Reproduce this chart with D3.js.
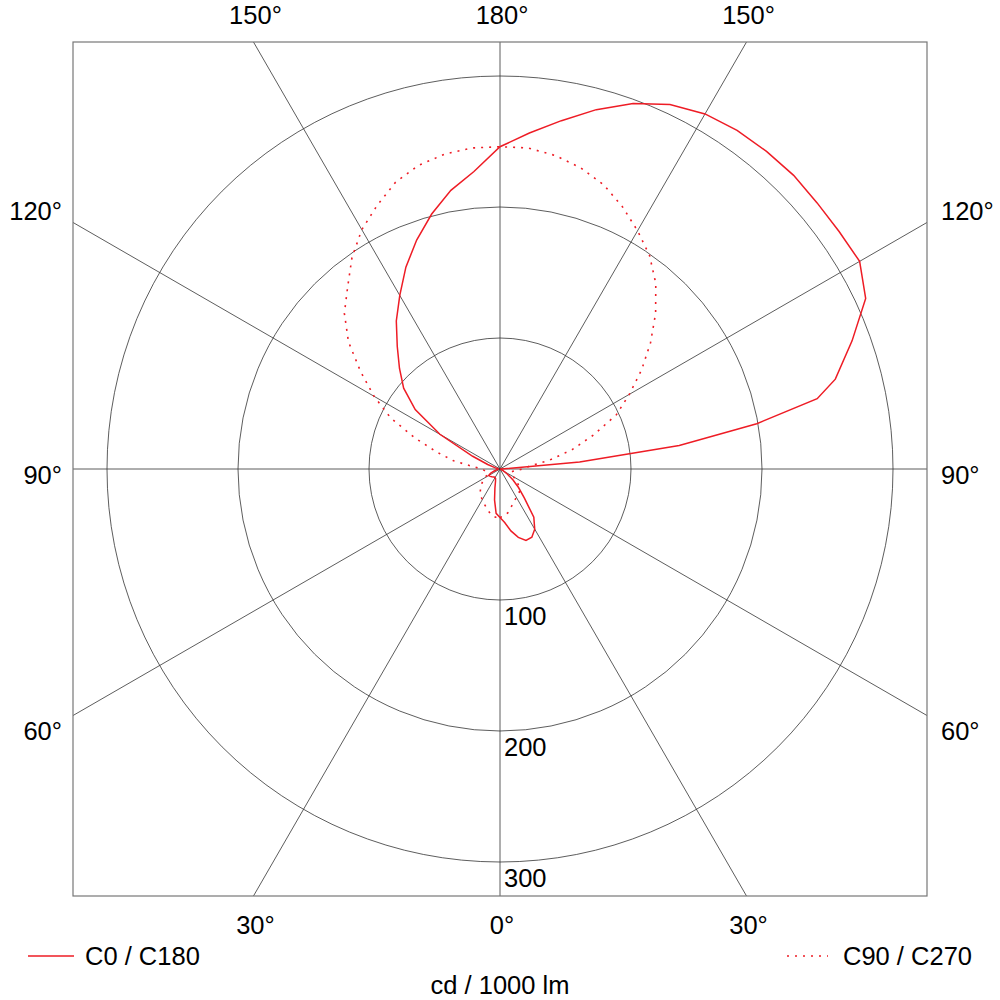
<!DOCTYPE html>
<html>
<head>
<meta charset="utf-8">
<script src="https://cdn.jsdelivr.net/npm/d3@7"></script>
<style>
  body { margin: 0; background: #fff; }
  text { font-family: "Liberation Sans", Arial, Helvetica, sans-serif; font-size: 25.5px; fill: #000; }
</style>
</head>
<body>
<div id="chart"></div>
<script>
// gamma angles (deg, 0 = straight down) and intensities (cd / 1000 lm)
const gammaC0 = [0,5,10,15,20,25,30,35,40,45,50,55,60,65,70,75,80,85,90,95,97.5,100,102.5,105,110,115,120,125,130,135,140,145,150,155,160,165,170,175,180];
const valC0 = [37,41,48,54,58,57.5,53,45,29,20,13,7,3,1,0.5,0.5,0.5,0.5,1,61,138,199,248,265,286,308,317,316,316,317,316.5,315.5,313,307,297,284,270,257.5,246];

const gamma5 = d3.range(0, 181, 5);
const valC180 = [37,34,24,15,10,8,7.5,7.5,8,8.5,9,9.5,10,8,5,3,2,1.5,1.5,1.5,2,4,10,23,53,79,96,108.5,122,138,153,170,186,201.5,216,228,246];
const valC90 = [37,36,34,31,28.5,26.5,25,24,23,21,18,15,12,10,9,9,10,13,17,22,38,57,76,98,114,132,150,168,185,199,210,221,231,238,243,246,246];
const valC270 = [37,37,36,33.5,31,29,27,25.5,23.5,21,18.5,16,13,11,10,10,10.5,12,14,20.5,36,50,69,92,111,130,151,168,181,197,211,222,233,240,244,246,246];

const rings = [100, 200, 300];
const spokes = d3.range(0, 360, 30);
const topLabels = ['150°', '180°', '150°'];
const sideLabels = ['120°', '90°', '60°'];
const bottomLabels = ['30°', '0°', '30°'];
const legendNames = ['C0 / C180', 'C90 / C270'];
const unitLabel = 'cd / 1000 lm';

const width = 1000, height = 1000;
const cx = 500, cy = 469, half = 427;
const red = '#ee1c25';

const r = d3.scaleLinear().domain([0, 300]).range([0, 393]);
const rad = d => d * Math.PI / 180;

const svg = d3.select('#chart').append('svg')
  .attr('width', width)
  .attr('height', height);

//clip rect lives in the translated (centre) coordinates
svg.append('defs').append('clipPath')
  .attr('id', 'frame')
  .append('rect')
  .attr('x', -half).attr('y', -half)
  .attr('width', half * 2).attr('height', half * 2);

const g = svg.append('g')
  .attr('transform', 'translate(' + cx + ',' + cy + ')');

const grid = g.append('g')
  .attr('clip-path', 'url(#frame)');

//spokes every 30 degrees, clipped by the frame
grid.selectAll('.spoke')
  .data(spokes)
  .enter().append('line')
  .attr('class', 'spoke')
  .attr('x1', 0).attr('y1', 0)
  .attr('x2', d => 800 * Math.sin(rad(d)))
  .attr('y2', d => -800 * Math.cos(rad(d)))
  .attr('stroke', '#333')
  .attr('stroke-width', 0.8);

grid.selectAll('.ring')
  .data(rings)
  .enter().append('circle')
  .attr('class', 'ring')
  .attr('r', d => r(d))
  .attr('fill', 'none')
  .attr('stroke', '#333')
  .attr('stroke-width', 0.8);

//frame
svg.append('rect')
  .attr('x', cx - half).attr('y', cy - half)
  .attr('width', half * 2).attr('height', half * 2)
  .attr('fill', 'none')
  .attr('stroke', '#777')
  .attr('stroke-width', 1.2);

//ring labels
g.selectAll('.ring-label')
  .data(rings)
  .enter().append('text')
  .attr('class', 'ring-label')
  .attr('x', 4)
  .attr('y', d => r(d) + 25)
  .text(d => d);

//curves: right half uses angle pi - gamma, left half pi + gamma
const line = d3.lineRadial()
  .curve(d3.curveLinear)
  .angle(d => d.a)
  .radius(d => r(d.v));

function halves(gRight, vRight, gLeft, vLeft) {
  const right = gRight.map((gm, i) => ({a: Math.PI - rad(gm), v: vRight[i]}));
  const left = gLeft.map((gm, i) => ({a: Math.PI + rad(gm), v: vLeft[i]})).reverse();
  return right.concat(left);
}

g.append('path')
  .datum(halves(gamma5, valC90, gamma5, valC270))
  .attr('d', line)
  .attr('fill', 'none')
  .attr('stroke', red)
  .attr('stroke-width', 1.6)
  .attr('stroke-dasharray', '2,6');

g.append('path')
  .datum(halves(gammaC0, valC0, gamma5, valC180))
  .attr('d', line)
  .attr('fill', 'none')
  .attr('stroke', red)
  .attr('stroke-width', 1.5);

//angle labels
const off = half * Math.tan(rad(30));
const xs = [cx - off, cx, cx + off];

svg.selectAll('.top-label')
  .data(topLabels)
  .enter().append('text')
  .attr('x', (d, i) => xs[i] + 2)
  .attr('y', 24)
  .attr('text-anchor', 'middle')
  .text(d => d);

svg.selectAll('.bottom-label')
  .data(bottomLabels)
  .enter().append('text')
  .attr('x', (d, i) => xs[i] + 2)
  .attr('y', 934)
  .attr('text-anchor', 'middle')
  .text(d => d);

const ys = [220, 484, 740];

svg.selectAll('.left-label')
  .data(sideLabels)
  .enter().append('text')
  .attr('x', 62)
  .attr('y', (d, i) => ys[i])
  .attr('text-anchor', 'end')
  .text(d => d);

svg.selectAll('.right-label')
  .data(sideLabels)
  .enter().append('text')
  .attr('x', 941)
  .attr('y', (d, i) => ys[i])
  .text(d => d);

//legend
svg.append('line')
  .attr('x1', 28).attr('x2', 74)
  .attr('y1', 956).attr('y2', 956)
  .attr('stroke', red)
  .attr('stroke-width', 1.5);

svg.append('text')
  .attr('x', 85).attr('y', 965)
  .text(legendNames[0]);

svg.append('line')
  .attr('x1', 787).attr('x2', 828)
  .attr('y1', 956).attr('y2', 956)
  .attr('stroke', red)
  .attr('stroke-width', 1.6)
  .attr('stroke-dasharray', '2,6');

svg.append('text')
  .attr('x', 972).attr('y', 965)
  .attr('text-anchor', 'end')
  .text(legendNames[1]);

svg.append('text')
  .attr('x', 500).attr('y', 994)
  .attr('text-anchor', 'middle')
  .text(unitLabel);
</script>
</body>
</html>
